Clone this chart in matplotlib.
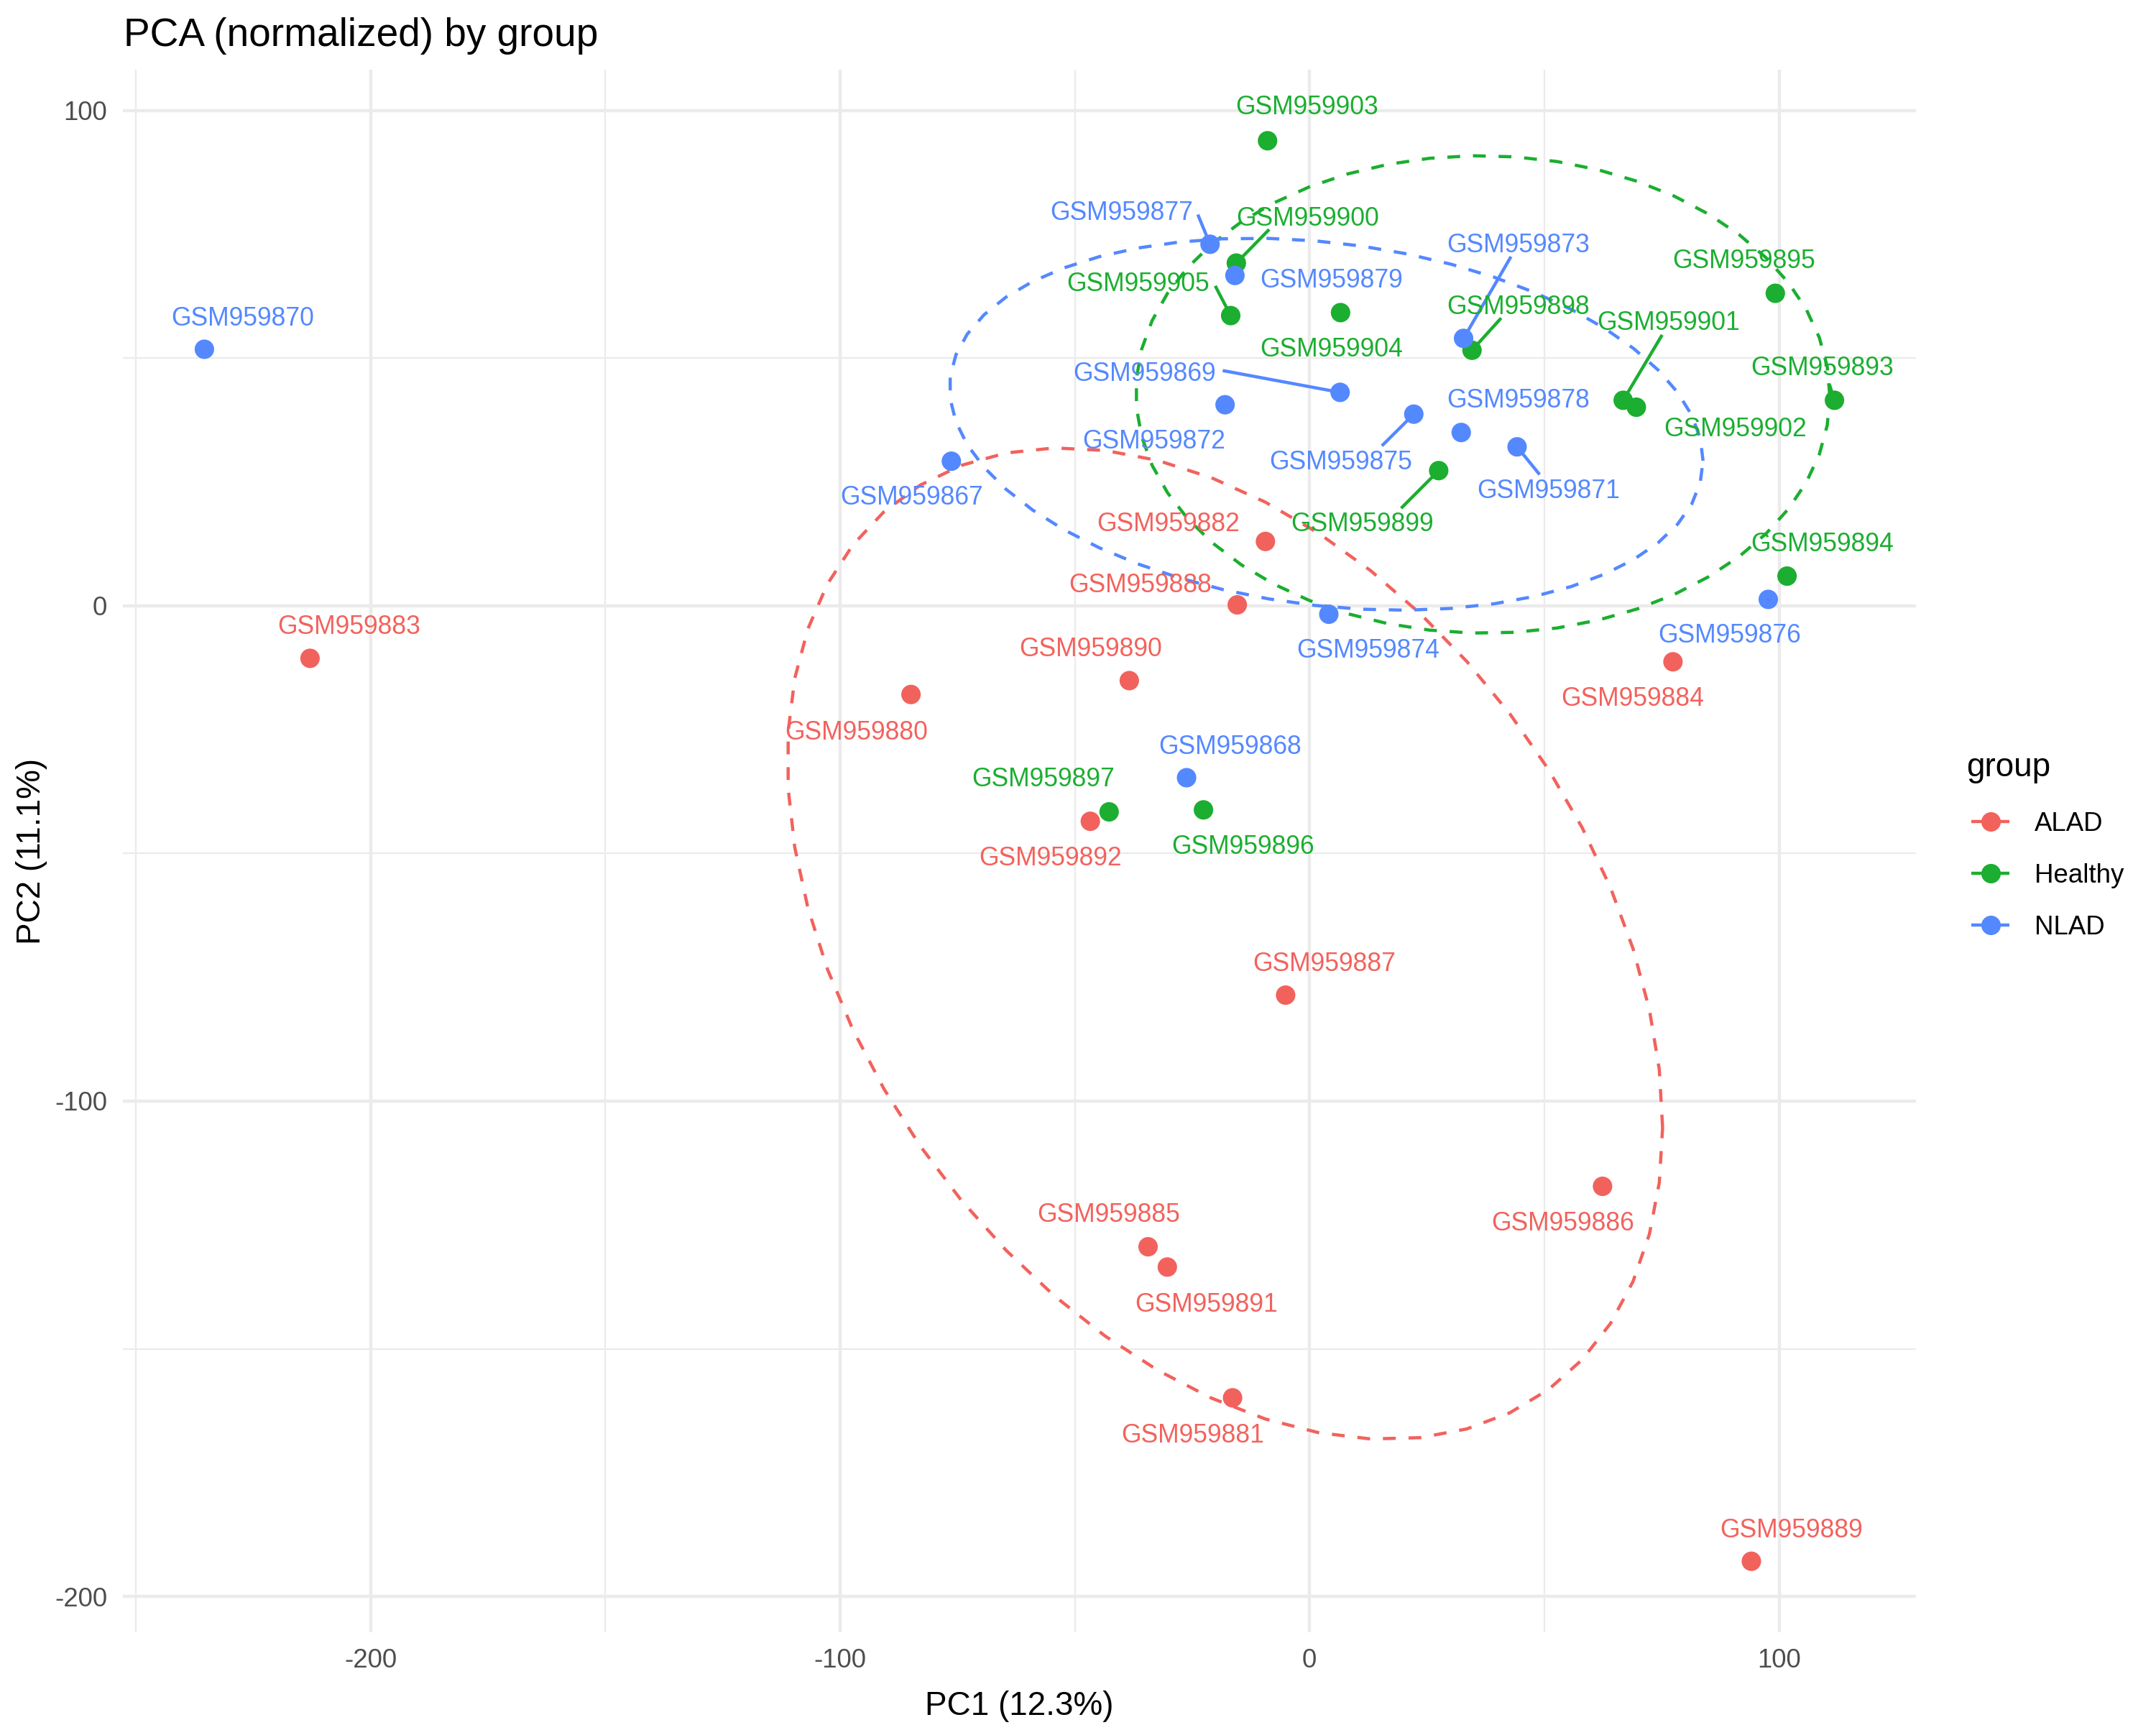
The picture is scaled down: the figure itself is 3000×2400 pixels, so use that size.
import numpy as np
import matplotlib
matplotlib.use("Agg")
import matplotlib.pyplot as plt
from matplotlib.lines import Line2D

plt.rcParams['font.family'] = ['Liberation Sans', 'DejaVu Sans']

# ---------------- data ----------------
groups = ["ALAD", "Healthy", "NLAD"]
group_colors = ["#F2625D", "#1BAE30", "#5488FF"]

alad_ids = ["GSM959880", "GSM959881", "GSM959882", "GSM959883", "GSM959884",
            "GSM959885", "GSM959886", "GSM959887", "GSM959888", "GSM959889",
            "GSM959890", "GSM959891", "GSM959892"]
alad_pc1 = [-84.9, -16.4, -9.4, -212.9, 77.4, -34.4, 62.4, -5.1, -15.4, 94.1, -38.4, -30.3, -46.7]
alad_pc2 = [-17.9, -159.9, 13.0, -10.6, -11.3, -129.4, -117.2, -78.6, 0.2, -192.9, -15.1, -133.5, -43.5]

healthy_ids = ["GSM959893", "GSM959894", "GSM959895", "GSM959896", "GSM959897",
               "GSM959898", "GSM959899", "GSM959900", "GSM959901", "GSM959902",
               "GSM959903", "GSM959904", "GSM959905"]
healthy_pc1 = [111.8, 101.7, 99.2, -22.6, -42.7, 34.6, 27.5, -15.6, 66.8, 69.6, -8.95, 6.6, -16.8]
healthy_pc2 = [41.5, 6.0, 63.1, -41.2, -41.6, 51.6, 27.3, 69.2, 41.5, 40.1, 93.9, 59.2, 58.6]

nlad_ids = ["GSM959867", "GSM959868", "GSM959869", "GSM959870", "GSM959871",
            "GSM959872", "GSM959873", "GSM959874", "GSM959875", "GSM959876",
            "GSM959877", "GSM959878", "GSM959879"]
nlad_pc1 = [-76.3, -26.2, 6.5, -235.4, 44.2, -18.0, 32.8, 4.1, 22.2, 97.7, -21.2, 32.3, -15.9]
nlad_pc2 = [29.2, -34.7, 43.1, 51.8, 32.1, 40.6, 54.0, -1.7, 38.7, 1.3, 73.0, 35.0, 66.7]

x_label = "PC1 (12.3%)"
y_label = "PC2 (11.1%)"
title = "PCA (normalized) by group"
x_ticks = [-200, -100, 0, 100]
y_ticks = [-200, -100, 0, 100]
ellipse_level = 0.68

# ---------------- label placement (repelled positions, label centres) ----------------
label_pos = {
    "GSM959870": (-227.2, 58.4), "GSM959883": (-204.6, -3.85), "GSM959867": (-84.8, 22.3),
    "GSM959882": (-30.1, 16.9), "GSM959888": (-36.1, 4.6), "GSM959874": (12.5, -8.6),
    "GSM959890": (-46.7, -8.3), "GSM959880": (-96.5, -25.2), "GSM959868": (-17.0, -28.0),
    "GSM959897": (-56.8, -34.6), "GSM959896": (-14.2, -48.2), "GSM959892": (-55.2, -50.5),
    "GSM959899": (11.3, 16.9), "GSM959872": (-33.1, 33.6), "GSM959875": (6.7, 29.4),
    "GSM959871": (50.9, 23.6), "GSM959878": (44.5, 41.9), "GSM959869": (-35.1, 47.2),
    "GSM959902": (90.7, 36.1), "GSM959901": (76.5, 57.5), "GSM959904": (4.7, 52.2),
    "GSM959879": (4.7, 66.1), "GSM959898": (44.5, 60.8), "GSM959873": (44.5, 73.3),
    "GSM959905": (-36.6, 65.4), "GSM959877": (-40.1, 79.7), "GSM959900": (-0.35, 78.6),
    "GSM959903": (-0.6, 101.1), "GSM959895": (92.5, 70.0), "GSM959893": (109.2, 48.4),
    "GSM959894": (109.2, 12.9), "GSM959876": (89.4, -5.6), "GSM959884": (68.8, -18.3),
    "GSM959887": (3.2, -71.9), "GSM959886": (54.0, -124.3), "GSM959885": (-42.8, -122.5),
    "GSM959891": (-22.0, -140.6), "GSM959881": (-24.9, -167.1), "GSM959889": (102.6, -186.3),
}
# start of leader segments (at the label edge)
segment_start = {
    "GSM959877": (-23.8, 79.0), "GSM959900": (-8.6, 76.0), "GSM959905": (-20.1, 64.6),
    "GSM959869": (-18.5, 47.5), "GSM959873": (42.9, 70.5), "GSM959898": (40.8, 58.1),
    "GSM959901": (75.1, 54.7), "GSM959875": (15.4, 32.3), "GSM959871": (49.0, 26.5),
    "GSM959899": (19.5, 19.7), "GSM959893": (110.7, 44.8),
}

group_data = [
    (alad_ids, alad_pc1, alad_pc2),
    (healthy_ids, healthy_pc1, healthy_pc2),
    (nlad_ids, nlad_pc1, nlad_pc2),
]

# ---------------- stat_ellipse (type = "t", robust covariance as MASS::cov.trob) ----------------
def cov_trob(X, nu=5, maxit=25, tol=0.01):
    n, p = X.shape
    wt = np.ones(n)
    loc = X.mean(axis=0)
    w = np.sqrt(wt)
    Xc = X - loc
    for _ in range(maxit):
        w0 = w
        Xc = X - loc
        A = np.sqrt(w / w.sum())[:, None] * Xc
        _, d, Vt = np.linalg.svd(A, full_matrices=False)
        wX = Xc @ Vt.T @ np.diag(1.0 / d)
        Q = (wX ** 2).sum(axis=1)
        w = (wt * (nu + p)) / (nu + Q)
        loc = (w[:, None] * X).sum(axis=0) / w.sum()
        if np.all(np.abs(w - w0) < tol):
            break
    sw = np.sqrt(w)[:, None] * Xc
    cov = sw.T @ sw / wt.sum()
    return cov, loc


def qf_df1_2(p, dfd):
    # quantile of the F(2, dfd) distribution (closed form for df1 = 2)
    return dfd / 2.0 * ((1.0 - p) ** (-2.0 / dfd) - 1.0)


def ellipse_path(x, y, level, segments=51):
    X = np.column_stack([x, y])
    cov, center = cov_trob(X)
    L = np.linalg.cholesky(cov)
    radius = np.sqrt(2 * qf_df1_2(level, len(x) - 1))
    ang = np.arange(segments + 1) * 2 * np.pi / segments
    circ = np.column_stack([np.cos(ang), np.sin(ang)])
    pts = center + radius * (circ @ L.T)
    return pts[:, 0], pts[:, 1]

# ---------------- figure ----------------
W, H = 3000, 2400
fig = plt.figure(figsize=(10, 8), dpi=300)
ax = fig.add_axes([171 / W, 1 - 2271 / H, (2666 - 171) / W, (2271 - 97) / H])
ax.set_facecolor("white")
for s in ax.spines.values():
    s.set_visible(False)

lw = 1.07
for (ids, px, py), col in zip(group_data, group_colors):
    ex, ey = ellipse_path(np.array(px), np.array(py), ellipse_level)
    ax.plot(ex, ey, color=col, lw=lw, dashes=(4, 4), zorder=3, dash_capstyle="butt")
    for name, xx, yy in zip(ids, px, py):
        if name in segment_start:
            sx, sy = segment_start[name]
            ax.plot([sx, xx], [sy, yy], color=col, lw=lw, zorder=4, solid_capstyle="butt")
    ax.scatter(px, py, s=6.5 ** 2, color=col, edgecolors="none", zorder=5)
    for name, xx, yy in zip(ids, px, py):
        lx, ly = label_pos[name]
        ax.annotate(name, xy=(lx, ly), xytext=(0, -3.06), textcoords="offset points",
                    ha="center", va="baseline", fontsize=8.54, color=col, zorder=6)

# limits: ggplot default 5% expansion of the data range
allx = np.array(alad_pc1 + healthy_pc1 + nlad_pc1)
ally = np.array(alad_pc2 + healthy_pc2 + nlad_pc2)
xr = allx.max() - allx.min()
yr = ally.max() - ally.min()
ax.set_xlim(allx.min() - 0.05 * xr, allx.max() + 0.05 * xr)
ax.set_ylim(ally.min() - 0.05 * yr, ally.max() + 0.05 * yr)

ax.set_xticks(x_ticks)
ax.set_yticks(y_ticks)
ax.set_xticklabels([str(t) for t in x_ticks])
ax.set_yticklabels([str(t) for t in y_ticks])
ax.set_xticks([-250, -150, -50, 50], minor=True)
ax.set_yticks([-150, -50, 50], minor=True)
ax.tick_params(which="both", length=0)
ax.tick_params(axis="both", which="major", labelsize=8.8, labelcolor="#4D4D4D")
ax.tick_params(axis="x", pad=5.2)
ax.tick_params(axis="y", pad=5.2)
ax.grid(which="major", color="#EBEBEB", lw=1.07)
ax.grid(which="minor", color="#EBEBEB", lw=0.53)
ax.set_axisbelow(True)

# titles
fig.text(172 / W, 1 - 63.6 / H, title, fontsize=13.2, ha="left", va="baseline", color="black")
fig.text(1418.5 / W, 1 - 2386 / H, x_label, fontsize=11, ha="center", va="baseline")
fig.text(55.5 / W, 1 - 1184 / H, y_label, fontsize=11, ha="center", va="baseline",
         rotation=90, rotation_mode="anchor")

# legend (drawn as a ggplot-style key: point + line)
fig.text(2736 / W, 1 - 1080 / H, "group", fontsize=11, ha="left", va="baseline")
key_y = [1143.3, 1215.0, 1286.7]
half_cap = (8.8 * 0.716 / 2) / 72 * 300 / H
for g, col, ky in zip(groups, group_colors, key_y):
    yy = 1 - ky / H
    fig.add_artist(Line2D([2743 / W, 2796 / W], [yy, yy], color=col, lw=lw,
                          transform=fig.transFigure, solid_capstyle="butt"))
    fig.add_artist(Line2D([2770 / W], [yy], marker="o", markersize=6.5, color=col,
                          markeredgewidth=0, transform=fig.transFigure))
    fig.text(2831 / W, yy - half_cap, g, fontsize=8.8, ha="left", va="baseline")

fig.savefig("out.png", dpi=300, facecolor="white")
